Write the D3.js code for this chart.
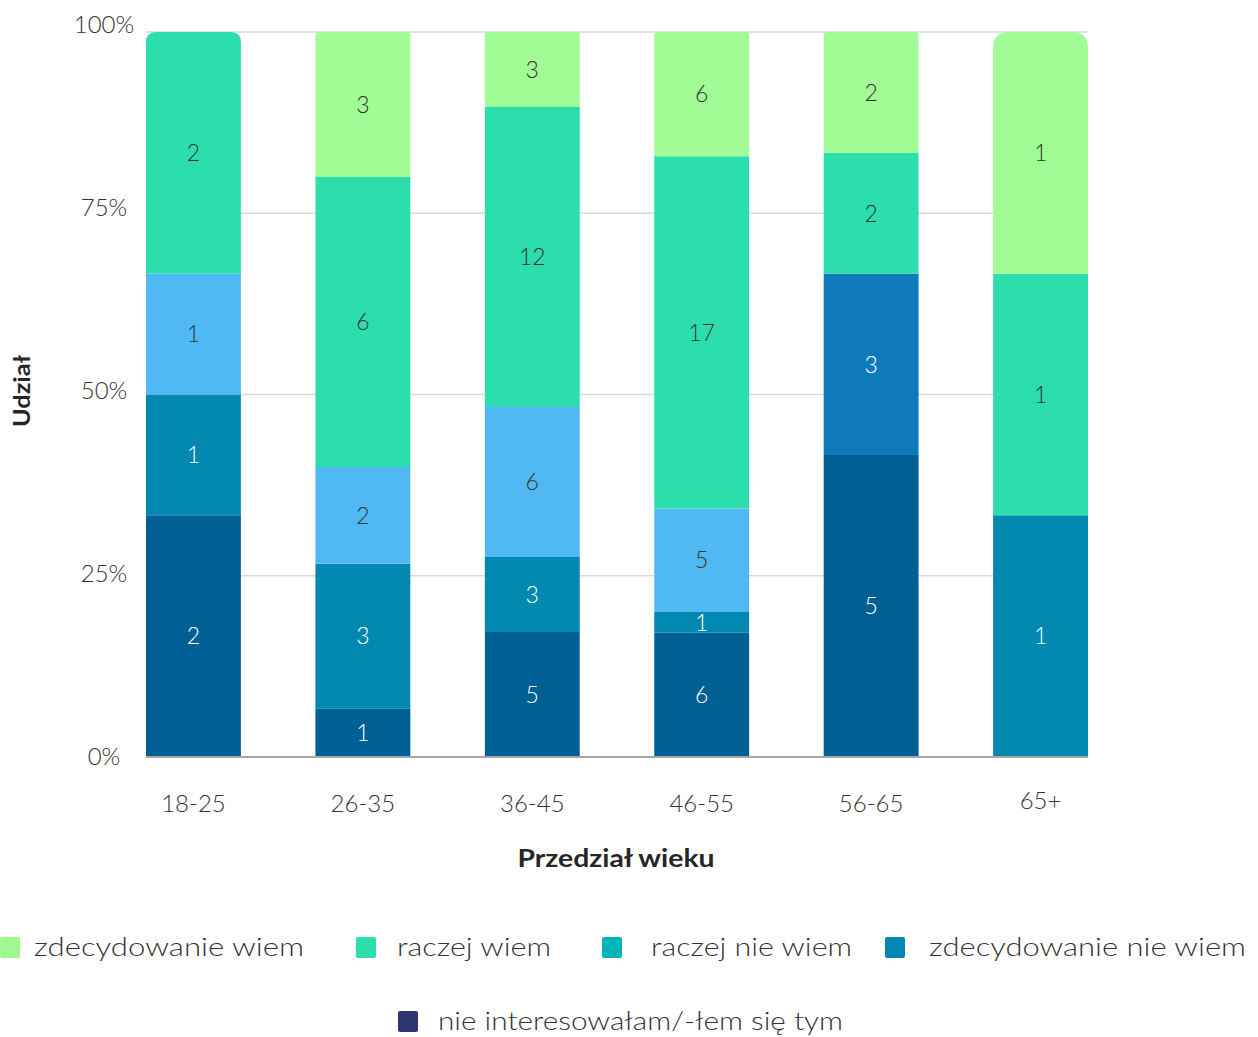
<!DOCTYPE html>
<html>
<head>
<meta charset="utf-8">
<script src="https://cdn.jsdelivr.net/npm/d3@7"></script>
<style>
  html, body { margin: 0; padding: 0; background: #fff; }
  svg { display: block; }
  text { font-family: "Lato", "DejaVu Sans", sans-serif; }
</style>
</head>
<body>
<svg id="chart" width="1258" height="1037"></svg>
<script>
// Age groups on the x axis
const ageGroups = ["18-25", "26-35", "36-45", "46-55", "56-65", "65+"];

// Answer series, stacked from the bottom up
const seriesNames = [
  "nie interesowałam/-łem się tym",
  "zdecydowanie nie wiem",
  "raczej nie wiem",
  "raczej wiem",
  "zdecydowanie wiem"
];

// Counts per age group for each answer
const nieInteresowalam    = [2, 1, 5, 6, 5, 0];
const zdecydowanieNieWiem = [1, 3, 3, 1, 0, 1];
const raczejNieWiem       = [1, 2, 6, 5, 3, 0];
const raczejWiem          = [2, 6, 12, 17, 2, 1];
const zdecydowanieWiem    = [0, 3, 3, 6, 2, 1];

// Y axis ticks
const yTicks = [0, 0.25, 0.5, 0.75, 1];
const yTickLabels = ["0%", "25%", "50%", "75%", "100%"];

// Legend order (first row left to right, then second row)
const legendOrder = [
  "zdecydowanie wiem",
  "raczej wiem",
  "raczej nie wiem",
  "zdecydowanie nie wiem",
  "nie interesowałam/-łem się tym"
];

// ---- styling ----
const barColor = {
  "nie interesowałam/-łem się tym": "#005f94",
  "zdecydowanie nie wiem": "#0088b0",
  "raczej nie wiem": "#50b9f4",
  "raczej wiem": "#2ddead",
  "zdecydowanie wiem": "#a2fc96"
};
const legendColor = {
  "zdecydowanie wiem": "#a0f890",
  "raczej wiem": "#2ddead",
  "raczej nie wiem": "#00b5b8",
  "zdecydowanie nie wiem": "#0088b0",
  "nie interesowałam/-łem się tym": "#2e3570"
};
const labelColor = {
  "nie interesowałam/-łem się tym": "#ffffff",
  "zdecydowanie nie wiem": "#ffffff",
  "raczej nie wiem": "#333333",
  "raczej wiem": "#333333",
  "zdecydowanie wiem": "#333333"
};
// the 56-65 "raczej nie wiem" segment is drawn in a deeper blue
const cellFill = { "56-65|raczej nie wiem": "#0e7abc" };
const cellLabel = { "56-65|raczej nie wiem": "#ffffff" };
// rounding of the top corners of each column
const topRadius = { "18-25": 10, "26-35": 3, "36-45": 3, "46-55": 3, "56-65": 4, "65+": 16 };

const valuesBySeries = {
  "nie interesowałam/-łem się tym": nieInteresowalam,
  "zdecydowanie nie wiem": zdecydowanieNieWiem,
  "raczej nie wiem": raczejNieWiem,
  "raczej wiem": raczejWiem,
  "zdecydowanie wiem": zdecydowanieWiem
};

// rows for the stack: one per age group, normalised to shares
const rows = ageGroups.map((g, i) => {
  const row = { group: g };
  let total = 0;
  seriesNames.forEach(s => { total += valuesBySeries[s][i]; });
  seriesNames.forEach(s => { row[s] = valuesBySeries[s][i] / total; row[s + "#n"] = valuesBySeries[s][i]; });
  return row;
});

const svg = d3.select("#chart");

const x = d3.scaleBand().domain(ageGroups).range([146, 1088]).paddingInner(0.44).paddingOuter(0);
const y = d3.scaleLinear().domain([0, 1]).range([757, 32]);
// tick labels sit slightly above their grid lines, more so towards the top
const yLabel = d3.scaleLinear().domain([0, 1]).range([756, 24]);

// grid lines
svg.append("g").selectAll("line").data(yTicks.filter(t => t > 0)).join("line")
  .attr("x1", 146).attr("x2", 1088)
  .attr("y1", d => y(d)).attr("y2", d => y(d))
  .attr("stroke", "#d9d9d9").attr("stroke-width", 1.5);

const stacked = d3.stack().keys(seriesNames)(rows);

// rounded-top rectangle path
function topRoundedRect(x0, y0, w, h, r) {
  r = Math.min(r, h, w / 2);
  return `M${x0},${y0 + h}V${y0 + r}Q${x0},${y0} ${x0 + r},${y0}H${x0 + w - r}Q${x0 + w},${y0} ${x0 + w},${y0 + r}V${y0 + h}Z`;
}

// the top-most non-empty series of each column
const topSeries = {};
ageGroups.forEach((g, i) => {
  for (let k = seriesNames.length - 1; k >= 0; k--) {
    if (valuesBySeries[seriesNames[k]][i] > 0) { topSeries[g] = seriesNames[k]; break; }
  }
});

const bars = svg.append("g");
stacked.forEach(layer => {
  const s = layer.key;
  layer.forEach((d, i) => {
    const g = ageGroups[i];
    if (d[1] - d[0] <= 0) return;
    const key = g + "|" + s;
    const x0 = x(g), w = x.bandwidth();
    const yTop = y(d[1]), h = y(d[0]) - y(d[1]);
    const r = topSeries[g] === s ? topRadius[g] : 0;
    bars.append("path")
      .attr("d", topRoundedRect(x0, yTop, w, h, r))
      .attr("fill", cellFill[key] || barColor[s]);
    bars.append("text")
      .attr("x", x0 + w / 2)
      .attr("y", yTop + h / 2)
      .attr("dy", "0.36em")
      .attr("text-anchor", "middle")
      .attr("font-size", 23)
      .attr("font-weight", 300)
      .attr("fill", cellLabel[key] || labelColor[s])
      .text(rows[i][s + "#n"]);
  });
});

// baseline
svg.append("line").attr("x1", 146).attr("x2", 1088)
  .attr("y1", y(0)).attr("y2", y(0))
  .attr("stroke", "#a6a6a6").attr("stroke-width", 2);

// y tick labels
svg.append("g").selectAll("text").data(yTicks).join("text")
  .attr("x", 104).attr("y", d => yLabel(d)).attr("dy", "0.36em")
  .attr("text-anchor", "middle").attr("font-size", 24).attr("font-weight", 300)
  .attr("fill", "#333").text((d, i) => yTickLabels[i]);

// x tick labels
svg.append("g").selectAll("text").data(ageGroups).join("text")
  .attr("x", d => x(d) + x.bandwidth() / 2)
  .attr("y", d => d === "65+" ? 800 : 803).attr("dy", "0.36em")
  .attr("text-anchor", "middle").attr("font-size", 24).attr("font-weight", 300)
  .attr("fill", "#333").text(d => d);

// axis titles
svg.append("text").attr("x", 616).attr("y", 858).attr("dy", "0.36em")
  .attr("text-anchor", "middle").attr("font-size", 25).attr("font-weight", 700)
  .attr("textLength", 197).attr("lengthAdjust", "spacingAndGlyphs")
  .attr("fill", "#262626").text("Przedział wieku");
svg.append("text").attr("transform", "translate(22,391) rotate(-90)").attr("dy", "0.36em")
  .attr("text-anchor", "middle").attr("font-size", 22).attr("font-weight", 700)
  .attr("textLength", 72).attr("lengthAdjust", "spacingAndGlyphs")
  .attr("fill", "#262626").text("Udział");

// legend
const legendPos = [
  { sx: 0, tx: 34, y: 947, w: 270 },
  { sx: 356, tx: 397, y: 947, w: 154 },
  { sx: 602, tx: 651, y: 947, w: 201 },
  { sx: 885, tx: 929, y: 947, w: 317 },
  { sx: 398, tx: 438, y: 1021, w: 405 }
];
const legend = svg.append("g");
legendOrder.forEach((name, i) => {
  const p = legendPos[i];
  legend.append("rect").attr("x", p.sx).attr("y", p.y - 10).attr("width", 20).attr("height", 21)
    .attr("rx", 2).attr("fill", legendColor[name]);
  legend.append("text").attr("x", p.tx).attr("y", p.y).attr("dy", "0.36em")
    .attr("font-size", 26).attr("font-weight", 300)
    .attr("textLength", p.w).attr("lengthAdjust", "spacingAndGlyphs")
    .attr("fill", "#333").text(name);
});
</script>
</body>
</html>
